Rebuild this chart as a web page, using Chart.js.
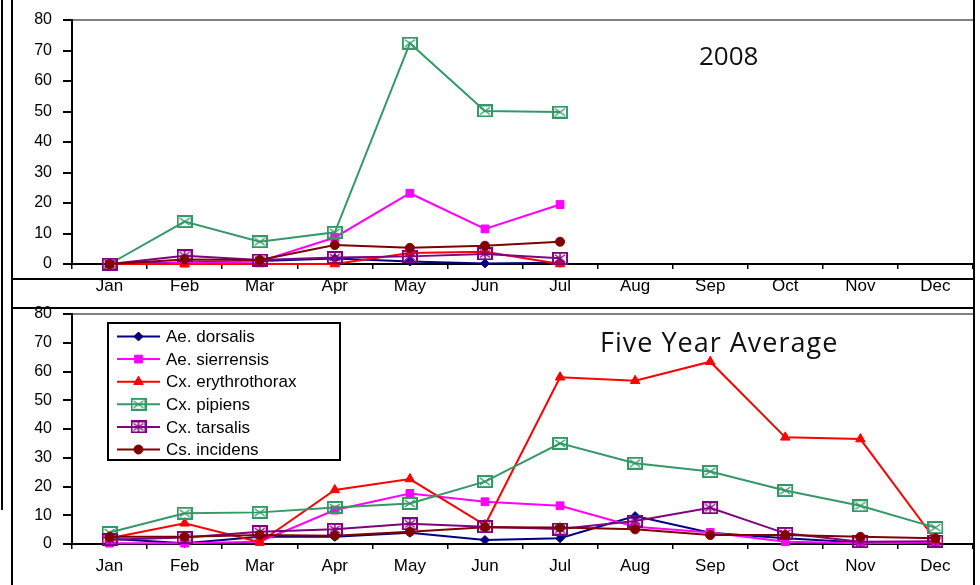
<!DOCTYPE html>
<html>
<head>
<meta charset="utf-8">
<script src="https://cdn.jsdelivr.net/npm/chart.js@4.4.0/dist/chart.umd.min.js"></script>
<style>
  body { margin: 0; background: #fff; }
  #wrap { position: relative; width: 980px; height: 585px; overflow: hidden; }
  #top { position: absolute; left: 0; top: 0; }
  #bottom { position: absolute; left: 0; top: 300px; }
  .ln { position: absolute; background: #000; }
</style>
</head>
<body>
<div id="wrap">
  <canvas id="top" width="980" height="300"></canvas>
  <canvas id="bottom" width="980" height="285"></canvas>
  <div class="ln" style="left:1px;top:0;width:2px;height:510px"></div>
  <div class="ln" style="left:11px;top:0;width:2px;height:585px"></div>
  <div class="ln" style="left:11px;top:278px;width:964px;height:2px"></div>
  <div class="ln" style="left:11px;top:307px;width:964px;height:2px"></div>
  <div class="ln" style="left:973px;top:0;width:2px;height:585px"></div>
</div>
<script>
// months
var months = ['Jan', 'Feb', 'Mar', 'Apr', 'May', 'Jun', 'Jul', 'Aug', 'Sep', 'Oct', 'Nov', 'Dec'];
var speciesNames = ['Ae. dorsalis', 'Ae. sierrensis', 'Cx. erythrothorax', 'Cx. pipiens', 'Cx. tarsalis', 'Cs. incidens'];
var yTicks = [0, 10, 20, 30, 40, 50, 60, 70, 80];

// 2008 (Jan - Jul only)
var dorsalis2008   = [0, 0.5, 1.0, 1.8, 0.8, 0.2, 0.4];
var sierrensis2008 = [0, 0.3, 0.8, 8.7, 23.2, 11.5, 19.5];
var erythro2008    = [0, 0, 0, 0, 3.6, 4.0, 0];
var pipiens2008    = [0, 13.9, 7.3, 10.4, 72.4, 50.2, 49.8];
var tarsalis2008   = [0, 2.7, 1.3, 2.1, 2.5, 3.3, 1.9];
var incidens2008   = [0, 1.5, 1.3, 6.2, 5.3, 6.0, 7.3];

// five year average
var dorsalisAvg   = [1.8, 0.3, 2.5, 2.5, 3.9, 1.4, 2.0, 9.7, 3.9, 2.0, 0.5, 0.5];
var sierrensisAvg = [0.3, 0.3, 0.8, 11.8, 17.6, 14.7, 13.3, 6.0, 4.0, 0.8, 0.3, 0.5];
var erythroAvg    = [2.0, 7.2, 0.6, 18.8, 22.6, 6.6, 58.0, 56.8, 63.4, 37.1, 36.5, 1.4];
var pipiensAvg    = [4.0, 10.7, 11.0, 12.7, 14.1, 21.7, 35.0, 28.1, 25.2, 18.6, 13.3, 5.7];
var tarsalisAvg   = [1.5, 2.3, 4.3, 5.1, 7.0, 6.0, 5.2, 8.0, 12.6, 3.7, 0.8, 1.0];
var incidensAvg   = [2.5, 2.5, 3.1, 2.9, 4.3, 5.8, 5.7, 5.1, 3.1, 3.1, 2.5, 2.0];

Chart.defaults.font.family = '"Liberation Sans", Arial, sans-serif';
Chart.defaults.color = '#000';

// box markers (x in box / asterisk in box)
function boxMarker(color, star) {
    var c = document.createElement('canvas');
    c.width = 16; c.height = 13;
    var g = c.getContext('2d');
    g.strokeStyle = color;
    g.lineWidth = 2;
    g.strokeRect(1, 1, 14, 11);
    g.lineWidth = 1.5;
    g.beginPath();
    g.moveTo(3, 3); g.lineTo(13, 10);
    g.moveTo(13, 3); g.lineTo(3, 10);
    if (star) { g.moveTo(8, 2); g.lineTo(8, 11); }
    g.stroke();
    return c;
}

var colors = ['#000080', '#FF00FF', '#FF0000', '#339966', '#800080', '#800000'];
var styles = ['rectRot', 'rect', 'triangle', boxMarker('#339966', false), boxMarker('#800080', true), 'circle'];
var radii = [4.5, 5.5, 5.5, 6, 6, 4.5];

function makeDatasets(series) {
    return series.map(function(data, i) {
        return {
            label: speciesNames[i],
            data: data,
            borderColor: colors[i],
            backgroundColor: colors[i],
            pointBackgroundColor: colors[i],
            pointBorderColor: colors[i],
            borderWidth: 2,
            pointStyle: styles[i],
            pointRadius: radii[i],
            pointBorderWidth: 1,
            tension: 0,
            clip: false,
            order: series.length - i
        };
    });
}

function makeScales(xHeight) {
    return {
        x: {
            offset: true,
            afterFit: function(s) { s.height = xHeight; s.paddingLeft = 0; s.paddingRight = 0; },
            grid: { offset: true, drawOnChartArea: false, drawTicks: true, tickLength: 5, color: '#000', lineWidth: 1.5 },
            border: { display: true, color: '#000', width: 2 },
            ticks: { color: '#000', font: { size: 17 }, padding: 7, maxRotation: 0, autoSkip: false }
        },
        y: {
            min: yTicks[0],
            max: yTicks[yTicks.length - 1],
            afterFit: function(s) { s.width = 72; s.paddingTop = 0; s.paddingBottom = 0; },
            afterBuildTicks: function(s) { s.ticks = yTicks.map(function(v) { return { value: v }; }); },
            grid: {
                drawOnChartArea: true,
                color: function(c) { return c.tick && c.tick.value === 80 ? '#808080' : 'rgba(0,0,0,0)'; },
                tickColor: '#000',
                tickLength: 9,
                lineWidth: 2
            },
            border: { color: '#000', width: 2 },
            ticks: { color: '#000', font: { size: 16 }, padding: 11 }
        }
    };
}

function titlePlugin(text, x, y, size, spacing) {
    return {
        id: 'innerTitle',
        afterDraw: function(chart) {
            var ctx = chart.ctx;
            ctx.save();
            ctx.font = size + 'px "Open Sans", sans-serif';
            if ('letterSpacing' in ctx) ctx.letterSpacing = spacing + 'px';
            ctx.fillStyle = '#111';
            ctx.textAlign = 'left';
            ctx.textBaseline = 'alphabetic';
            ctx.fillText(text, x, y);
            ctx.restore();
        }
    };
}

// 图例（在绘图区内）
var boxLegend = {
    id: 'boxLegend',
    afterDatasetsDraw: function(chart) {
        var ctx = chart.ctx;
        ctx.save();
        ctx.fillStyle = '#fff';
        ctx.fillRect(108, 23, 232, 137);
        ctx.strokeStyle = '#000';
        ctx.lineWidth = 2;
        ctx.strokeRect(108, 23, 232, 137);
        chart.data.datasets.forEach(function(d, i) {
            var y = 36.5 + i * 22.6;
            ctx.strokeStyle = d.borderColor;
            ctx.lineWidth = 2;
            ctx.beginPath();
            ctx.moveTo(117, y);
            ctx.lineTo(160, y);
            ctx.stroke();
            ctx.fillStyle = d.pointBackgroundColor;
            ctx.strokeStyle = d.pointBorderColor;
            ctx.lineWidth = 1;
            Chart.helpers.drawPoint(ctx, { pointStyle: d.pointStyle, radius: d.pointRadius, rotation: 0, borderWidth: 1 }, 138.5, y);
            ctx.fillStyle = '#000';
            ctx.font = '17px "Liberation Sans", Arial, sans-serif';
            ctx.textAlign = 'left';
            ctx.textBaseline = 'middle';
            ctx.fillText(d.label, 166, y + 1);
        });
        ctx.restore();
    }
};

new Chart(document.getElementById('top').getContext('2d'), {
    type: 'line',
    data: {
        labels: months,
        datasets: makeDatasets([dorsalis2008, sierrensis2008, erythro2008, pipiens2008, tarsalis2008, incidens2008])
    },
    options: {
        responsive: false,
        animation: false,
        devicePixelRatio: 1,
        layout: { padding: { left: 0, right: 2, top: 20, bottom: 0 } },
        scales: makeScales(36),
        plugins: { legend: { display: false }, tooltip: { enabled: false } }
    },
    plugins: [titlePlugin('2008', 699, 65, 26, 0)]
});

new Chart(document.getElementById('bottom').getContext('2d'), {
    type: 'line',
    data: {
        labels: months,
        datasets: makeDatasets([dorsalisAvg, sierrensisAvg, erythroAvg, pipiensAvg, tarsalisAvg, incidensAvg])
    },
    options: {
        responsive: false,
        animation: false,
        devicePixelRatio: 1,
        layout: { padding: { left: 0, right: 2, top: 14, bottom: 0 } },
        scales: makeScales(41),
        plugins: { legend: { display: false }, tooltip: { enabled: false } }
    },
    plugins: [titlePlugin('Five Year Average', 600, 52, 27, 1), boxLegend]
});
</script>
</body>
</html>
